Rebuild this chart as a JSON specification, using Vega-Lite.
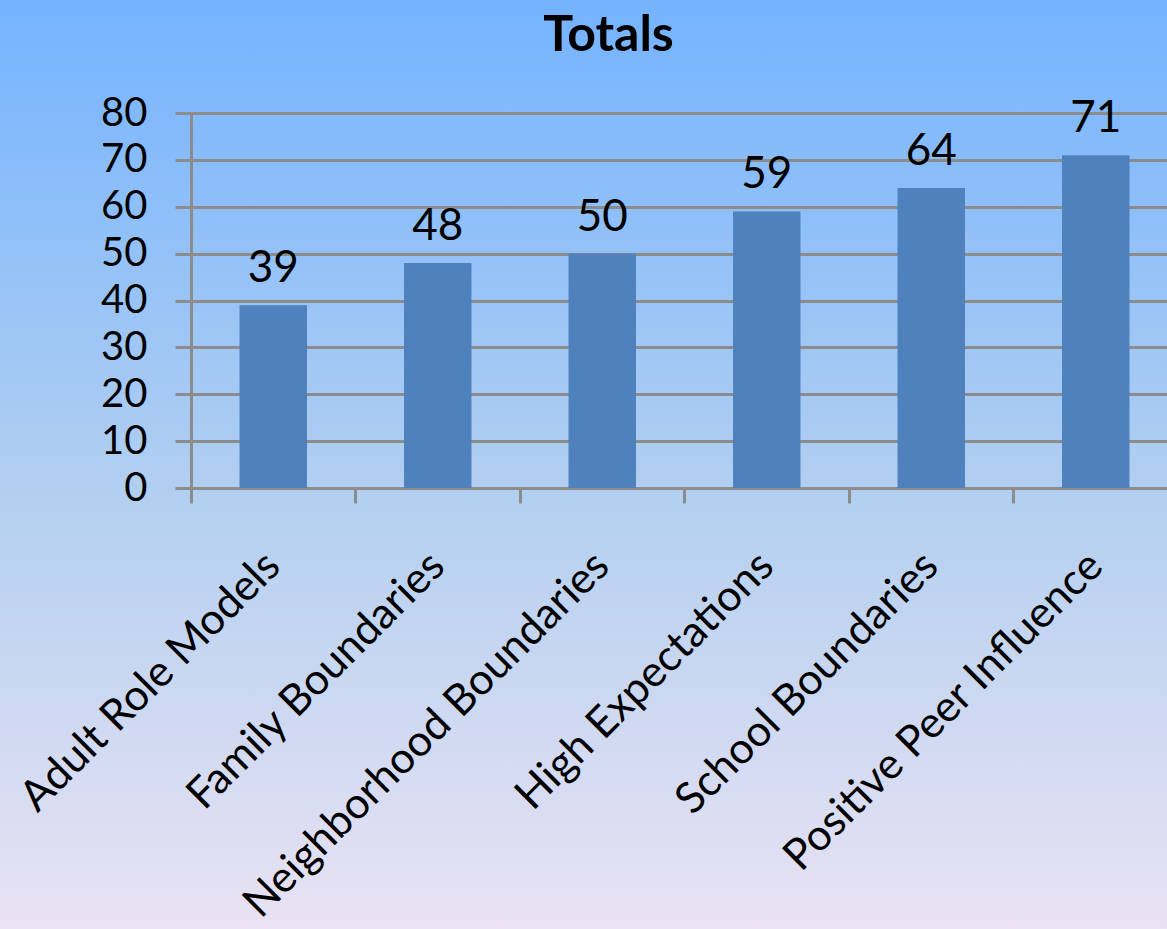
{
  "$schema": "https://vega.github.io/schema/vega-lite/v6.json",
  "width": 1167,
  "height": 929,
  "autosize": {"type": "none"},
  "padding": 0,
  "background": "#e9e2f3",
  "title": {"text": "Totals", "font": "Lato", "fontSize": 50, "fontWeight": "bold", "color": "#000000", "anchor": "middle", "dx": 25, "offset": -61},
  "data": {"values": [
    {"category": "Adult Role Models", "total": 39},
    {"category": "Family Boundaries", "total": 48},
    {"category": "Neighborhood Boundaries", "total": 50},
    {"category": "High Expectations", "total": 59},
    {"category": "School Boundaries", "total": 64},
    {"category": "Positive Peer Influence", "total": 71}
  ]},
  "encoding": {
    "x": {"field": "category", "type": "nominal", "sort": null,
      "scale": {"range": [191, 1178], "paddingInner": 0.59, "paddingOuter": 0.295},
      "axis": {"title": null, "offset": -441, "labelAngle": -45, "labelAlign": "right", "labelBaseline": "middle", "labelFont": "Lato", "labelFontSize": 43, "labelColor": "#000000", "labelPadding": 56, "tickSize": 15, "tickColor": "#8c8c8c", "tickWidth": 3, "domainColor": "#8c8c8c", "domainWidth": 3, "grid": false, "bandPosition": -0.7195, "labelLimit": 800, "labelOverlap": false}},
    "y": {"field": "total", "type": "quantitative",
      "scale": {"domain": [0, 80], "nice": false, "range": [488, 113]},
      "axis": {"title": null, "offset": -191, "values": [0,10,20,30,40,50,60,70,80], "labelFont": "Lato", "labelFontSize": 40, "labelColor": "#000000", "labelPadding": 28, "tickSize": 16, "tickColor": "#8c8c8c", "tickWidth": 3, "domainColor": "#8c8c8c", "domainWidth": 3, "gridColor": "#8c8c8c", "gridWidth": 3, "gridOpacity": 1, "labelOverlap": false}},
    "y2": {"datum": 0}
  },
  "layer": [
    {"mark": {"type": "bar", "color": "#4f81bd"}},
    {"mark": {"type": "text", "font": "Lato", "fontSize": 44, "color": "#000000", "dy": -36}, "encoding": {"text": {"field": "total", "type": "quantitative"}, "y2": null}}
  ],
  "config": {"view": {"stroke": null, "fill": {"gradient": "linear", "x1": 0, "y1": 0, "x2": 0, "y2": 1, "stops": [{"offset": 0, "color": "#74b3ff"}, {"offset": 0.55, "color": "#b4d0f0"}, {"offset": 1, "color": "#e9e2f3"}]}}}
}
